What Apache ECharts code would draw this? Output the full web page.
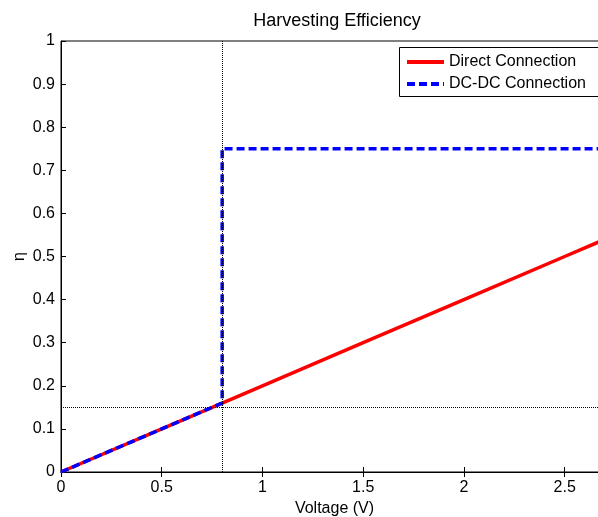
<!DOCTYPE html>
<html><head><meta charset="utf-8">
<script src="https://cdn.jsdelivr.net/npm/echarts@6/dist/echarts.min.js"></script>
<style>html,body{margin:0;padding:0;background:#fff}#c{width:598px;height:517px}</style>
</head><body><div id="c"></div>
<script>
const title = 'Harvesting Efficiency';
const xName = 'Voltage (V)';
const yName = 'η';
const directX = [0, 0.5, 0.8, 1, 1.5, 2, 2.5, 2.72];
const directY = [0, 0.1, 0.16, 0.2, 0.3, 0.4, 0.5, 0.544];
const dcdcX = [0, 0.5, 0.8, 0.8, 2.72];
const dcdcY = [0, 0.1, 0.16, 0.75, 0.75];
const refV = 0.8;
const refEta = 0.15;
const xMax = 2.715;

const font = 'Arial, "Liberation Sans", sans-serif';
const chart = echarts.init(document.getElementById('c'), null, {renderer: 'canvas'});
const fmtX = v => (Math.abs(v / 0.5 - Math.round(v / 0.5)) < 1e-6 ? String(+v.toFixed(2)) : '');
chart.setOption({
  backgroundColor: '#fff',
  animation: false,
  title: {text: title, left: 332, textAlign: 'center', top: 7,
    textStyle: {fontFamily: font, fontSize: 18, fontWeight: 'normal', color: '#000'}},
  grid: {left: 61, right: -10, top: 41, bottom: 45, show: true, borderColor: '#000', borderWidth: 1,
    containLabel: false, outerBoundsMode: 'none'},
  graphic: [{type: 'rect', shape: {x: 399.5, y: 47.5, width: 240, height: 49},
    style: {fill: '#fff', stroke: '#000', lineWidth: 1}, z: 100}],
  legend: {
    orient: 'vertical', left: 405, top: 54, z: 101,
    padding: 0, itemGap: 6, itemWidth: 37, itemHeight: 16,
    itemStyle: {opacity: 0},
    lineStyle: {width: 4},
    textStyle: {fontFamily: font, fontSize: 16, color: '#000'},
    data: ['Direct Connection', 'DC-DC Connection']
  },
  xAxis: [{
    type: 'value', min: 0, max: xMax, interval: 0.5, position: 'bottom',
    name: xName, nameLocation: 'middle', nameGap: 29, nameMoveOverlap: false,
    nameTextStyle: {fontFamily: font, fontSize: 16, color: '#000'},
    axisLine: {show: true, onZero: false, lineStyle: {color: '#000', width: 1}},
    axisTick: {show: true, inside: true, length: 5, lineStyle: {color: '#000'}},
    axisLabel: {fontFamily: font, fontSize: 16, color: '#000', margin: 8, formatter: fmtX},
    splitLine: {show: false}
  }, {
    type: 'value', min: 0, max: xMax, interval: 0.5, position: 'top',
    axisLine: {show: true, lineStyle: {color: '#000', width: 1}},
    axisTick: {show: true, inside: true, length: 5, lineStyle: {color: '#000'}},
    axisLabel: {show: false}, splitLine: {show: false}
  }],
  yAxis: [{
    type: 'value', min: 0, max: 1, interval: 0.1,
    name: yName, nameLocation: 'middle', nameGap: 33, nameMoveOverlap: false,
    nameTextStyle: {fontFamily: font, fontSize: 16, color: '#000'},
    axisLine: {show: true, lineStyle: {color: '#000', width: 1}},
    axisTick: {show: true, inside: true, length: 5, lineStyle: {color: '#000'}},
    axisLabel: {fontFamily: font, fontSize: 16, color: '#000', margin: 6,
      formatter: v => String(+v.toFixed(1))},
    splitLine: {show: false}
  }],
  series: [{
    name: 'Direct Connection', type: 'line', symbol: 'none',
    data: directX.map((x, i) => [x, directY[i]]),
    lineStyle: {color: '#ff0000', width: 3.5}, itemStyle: {color: '#ff0000'},
    z: 3,
    markLine: {
      silent: true, symbol: 'none', label: {show: false},
      lineStyle: {type: 'dotted', color: '#000', width: 1},
      data: [{xAxis: refV}, {yAxis: refEta}]
    }
  }, {
    name: 'DC-DC Connection', type: 'line', symbol: 'none',
    data: dcdcX.map((x, i) => [x, dcdcY[i]]),
    lineStyle: {color: '#0000ff', width: 3.5, type: [8, 4]}, itemStyle: {color: '#0000ff'},
    z: 4
  }]
});
</script></body></html>
